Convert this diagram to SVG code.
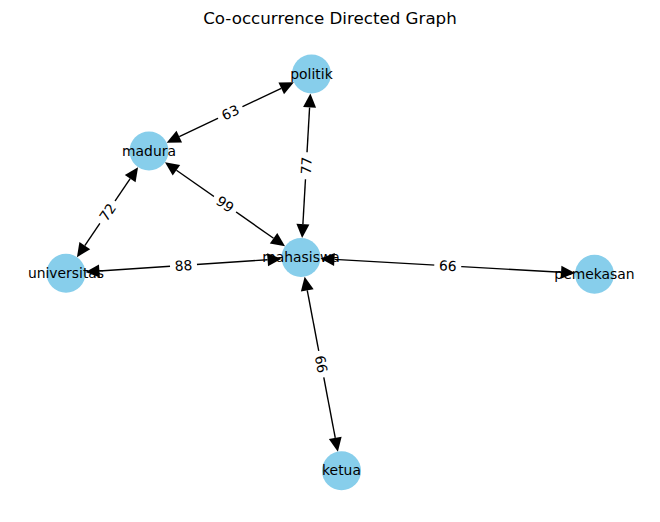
<svg xmlns="http://www.w3.org/2000/svg" width="660" height="522" viewBox="0 0 660 522">
<style>
.edge{stroke:#000;stroke-width:1.4;fill:none;marker-start:url(#ah);marker-end:url(#ah)}
.node circle{fill:#87CEEB}
.node text{font-family:"DejaVu Sans",sans-serif;font-size:13.9px;fill:#000;text-anchor:middle}
.elabel rect{fill:#fff}
.elabel text{font-family:"DejaVu Sans",sans-serif;font-size:13.9px;fill:#000;text-anchor:middle}
.title{font-family:"DejaVu Sans",sans-serif;font-size:16.7px;fill:#000;text-anchor:middle}
</style>
<defs>
<marker id="ah" markerUnits="userSpaceOnUse" markerWidth="16" markerHeight="14" refX="0" refY="6.5" orient="auto-start-reverse" viewBox="0 -0.5 15 14" overflow="visible">
<path d="M0,0 L14,6.5 L0,13 z" fill="#000"/>
</marker>
</defs>
<rect width="660" height="522" fill="#fff"/>
<text class="title" x="330" y="24">Co-occurrence Directed Graph</text>
<g id="connectors">
<line class="edge" x1="179.27" y1="136.66" x2="281.23" y2="88.34"/>
<line class="edge" x1="309.59" y1="107.45" x2="302.91" y2="224.05"/>
<line class="edge" x1="176.44" y1="170.22" x2="273.56" y2="238.28"/>
<line class="edge" x1="84.81" y1="245.58" x2="130.19" y2="178.72"/>
<line class="edge" x1="99.42" y1="271.05" x2="267.58" y2="259.75"/>
<line class="edge" x1="334.45" y1="259.40" x2="561.05" y2="272.30"/>
<line class="edge" x1="307.25" y1="290.41" x2="335.25" y2="437.89"/>
</g>
<g id="politik" class="node"><circle cx="311.5" cy="74" r="19.5"/><text x="311.5" y="78.5">politik</text></g>
<g id="madura" class="node"><circle cx="149" cy="151" r="19.5"/><text x="149" y="155.5">madura</text></g>
<g id="universitas" class="node"><circle cx="66" cy="273.3" r="19.5"/><text x="66" y="277.8">universitas</text></g>
<g id="mahasiswa" class="node"><circle cx="301" cy="257.5" r="19.5"/><text x="301" y="262">mahasiswa</text></g>
<g id="pemekasan" class="node"><circle cx="594.5" cy="274.2" r="19.5"/><text x="594.5" y="278.7">pemekasan</text></g>
<g id="ketua" class="node"><circle cx="341.5" cy="470.8" r="19.5"/><text x="341.5" y="475.3">ketua</text></g>
<g id="edge-labels">
<g class="elabel" transform="translate(230.25,112.5) rotate(-25.36)"><rect x="-13.5" y="-11" width="27" height="22" rx="4"/><text y="5">63</text></g>
<g class="elabel" transform="translate(306.25,165.75) rotate(-86.72)"><rect x="-13.5" y="-11" width="27" height="22" rx="4"/><text y="5">77</text></g>
<g class="elabel" transform="translate(225,204.25) rotate(35.02)"><rect x="-13.5" y="-11" width="27" height="22" rx="4"/><text y="5">99</text></g>
<g class="elabel" transform="translate(107.5,212.15) rotate(-55.84)"><rect x="-13.5" y="-11" width="27" height="22" rx="4"/><text y="5">72</text></g>
<g class="elabel" transform="translate(183.5,265.4) rotate(-3.85)"><rect x="-13.5" y="-11" width="27" height="22" rx="4"/><text y="5">88</text></g>
<g class="elabel" transform="translate(447.75,265.85) rotate(3.26)"><rect x="-13.5" y="-11" width="27" height="22" rx="4"/><text y="5">66</text></g>
<g class="elabel" transform="translate(321.25,364.15) rotate(79.25)"><rect x="-13.5" y="-11" width="27" height="22" rx="4"/><text y="5">66</text></g>
</g>
</svg>
